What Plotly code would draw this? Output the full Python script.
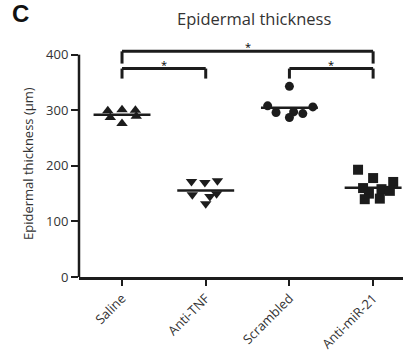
import plotly.graph_objects as go

categories = ["Saline", "Anti-TNF", "Scrambled", "Anti-miR-21"]
saline = [299, 301, 300, 287, 289, 276]
anti_tnf = [172, 170, 173, 148, 145, 150, 132]
scrambled = [343, 308, 306, 296, 294, 297, 287]
anti_mir21 = [193, 178, 171, 160, 158, 155, 150, 140, 141]
y_ticks = [0, 100, 200, 300, 400]

# horizontal jitter (layout only)
offsets = [
    [-0.17, 0.0, 0.16, -0.14, 0.17, 0.0],
    [-0.17, -0.01, 0.14, -0.16, 0.05, 0.13, 0.0],
    [0.0, -0.26, 0.28, -0.16, 0.16, 0.05, 0.0],
    [-0.18, 0.0, 0.24, -0.12, 0.1, 0.2, -0.05, -0.1, 0.08],
]
groups = [saline, anti_tnf, scrambled, anti_mir21]
symbols = ["triangle-up", "triangle-down", "circle", "square"]
sizes = [10, 10, 9, 10]
ink = "#1c1c1c"

fig = go.Figure()
for i, (vals, offs) in enumerate(zip(groups, offsets)):
    fig.add_trace(go.Scatter(
        x=[i + o for o in offs], y=vals, mode="markers",
        marker=dict(symbol=symbols[i], size=sizes[i], color=ink, line=dict(width=0)),
        showlegend=False, hoverinfo="y"))
    m = sum(vals) / len(vals)
    fig.add_trace(go.Scatter(
        x=[i - 0.34, i + 0.34], y=[m, m], mode="lines",
        line=dict(color=ink, width=2.5), showlegend=False, hoverinfo="skip"))

shapes = [dict(type="line", xref="paper", yref="y", x0=0, x1=0, y0=0, y1=400,
               line=dict(color=ink, width=2.5))]

def bracket(a, b, y, drop):
    return [
        dict(type="line", xref="x", yref="y", x0=a, x1=b, y0=y, y1=y, line=dict(color=ink, width=3)),
        dict(type="line", xref="x", yref="y", x0=a, x1=a, y0=y, y1=y - drop, line=dict(color=ink, width=3)),
        dict(type="line", xref="x", yref="y", x0=b, x1=b, y0=y, y1=y - drop, line=dict(color=ink, width=3)),
    ]

shapes += bracket(0, 3, 406, 22)
shapes += bracket(0, 1, 375, 18)
shapes += bracket(2, 3, 375, 18)

W, H = 403, 357
ml, mr, mt, mb = 79, 0, 38, 80
pw, ph = W - ml - mr, H - mt - mb

def px_ann(text, px, py, **kw):
    return dict(text=text, x=(px - ml) / pw, y=(H - mb - py) / ph, xref="paper", yref="paper",
                xanchor="center", yanchor="middle", showarrow=False, **kw)

annotations = [
    dict(text="*", x=1.5, y=414, xref="x", yref="y", showarrow=False, font=dict(size=11, color="#000")),
    dict(text="*", x=0.5, y=383, xref="x", yref="y", showarrow=False, font=dict(size=11, color="#000")),
    dict(text="*", x=2.5, y=383, xref="x", yref="y", showarrow=False, font=dict(size=11, color="#000")),
    px_ann("Epidermal thickness", 254, 18, font=dict(size=16.5, color="#333", family="Open Sans")),
    px_ann("Epidermal thickness (\u03bcm)", 28, 164, textangle=-90,
           font=dict(size=13, color="#333", family="Open Sans")),
    px_ann("<b>C</b>", 20, 13, font=dict(size=24, color="#111", family="Liberation Sans")),
]

fig.update_layout(
    width=W, height=H,
    margin=dict(l=ml, r=mr, t=mt, b=mb, autoexpand=False),
    paper_bgcolor="white", plot_bgcolor="white",
    font=dict(family="Open Sans", color="#333"),
    shapes=shapes, annotations=annotations,
    xaxis=dict(range=[-0.514, 3.357], tickvals=[0, 1, 2, 3], ticktext=categories,
               tickangle=-45, showline=True, linecolor=ink, linewidth=2.5,
               ticks="outside", ticklen=6, tickwidth=1.5, tickcolor=ink, automargin=False,
               showgrid=False, zeroline=False, tickfont=dict(size=13, color="#333")),
    yaxis=dict(range=[0, 430], tickvals=y_ticks, showline=False, automargin=False,
               ticks="outside", ticklen=7, tickwidth=1.5, tickcolor=ink,
               showgrid=False, zeroline=False, tickfont=dict(size=13, color="#333")),
)
fig.write_html("out.html", config={"displayModeBar": False},
               post_script="document.body.style.margin='0';document.body.style.padding='0';")
